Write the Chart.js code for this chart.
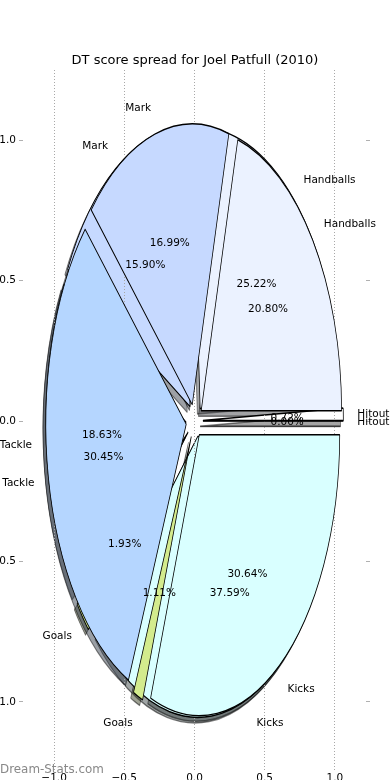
<!DOCTYPE html>
<html>
<head>
<meta charset="utf-8">
<title>DT score spread for Joel Patfull (2010)</title>
<script src="https://cdn.jsdelivr.net/npm/chart.js@4.4.1/dist/chart.umd.min.js"></script>
<style>
  html, body { margin: 0; padding: 0; overflow: hidden; background: #fff; }
  #wrap { position: relative; width: 390px; height: 780px; overflow: hidden; }
  canvas { position: absolute; left: -20px; top: 0; }
</style>
</head>
<body>
<div id="wrap">
  <canvas id="back" width="430" height="800"></canvas>
  <canvas id="front" width="430" height="800"></canvas>
</div>
<script>
// slices in the order matplotlib lays them out (counter-clockwise from east)
const sliceLabels = ["Hitout", "Handballs", "Mark", "Tackle", "Goals", "Kicks"];
const backShare = [0.72, 25.22, 15.90, 18.63, 1.93, 37.59];
const frontShare = [0.00, 20.80, 16.99, 30.45, 1.11, 30.64];
const sliceColors = ["#ffffff", "#ebf2ff", "#c6d9ff", "#b5d6ff", "#d3eb8d", "#d9ffff"];
const tickValues = [-1, -0.5, 0, 0.5, 1];
const titleText = "DT score spread for Joel Patfull (2010)";
const watermark = "Dream-Stats.com";

const axisLimit = 1.25;
const stretchY = 2;        // the axes squeeze the round pie into an ellipse
const explodeFrac = 0.06;
const shadowFrac = 0.02;
const labelDist = 1.1;
const pctDist = 0.6;
const fontFamily = '"DejaVu Sans", sans-serif';

// plot box inside the 430x800 canvases
const area = { left: 39, right: 40, top: 70, bottom: 28 };

// Chart.js goes clockwise, so feed it the slices backwards
const rev = a => a.slice().reverse();

function fmtTick(v) {
    return (v < 0 ? "\u2212" : "") + Math.abs(v).toFixed(1);
}

function unitPx(chart) {
    let a = chart.chartArea;
    return (a.right - a.left) / (2 * axisLimit);
}

function paintArc(ctx, arc, shadow) {
    let mid = (arc.startAngle + arc.endAngle) / 2;
    let shift = explodeFrac * arc.outerRadius;
    ctx.save();
    if (shadow) {
        ctx.translate(-shadowFrac * arc.outerRadius, shadowFrac * arc.outerRadius * stretchY);
        ctx.filter = "brightness(0.3)";
        ctx.globalAlpha = 0.5;
    }
    ctx.translate(arc.x, arc.y);
    ctx.scale(1, stretchY);
    ctx.translate(-arc.x, -arc.y);
    ctx.translate(Math.cos(mid) * shift, Math.sin(mid) * shift);
    if (arc.circumference > 0) {
        arc.draw(ctx);
    } else {
        // empty slice: matplotlib still draws its edge
        ctx.beginPath();
        ctx.moveTo(arc.x, arc.y);
        ctx.lineTo(arc.x + Math.cos(arc.startAngle) * arc.outerRadius,
                   arc.y + Math.sin(arc.startAngle) * arc.outerRadius);
        ctx.lineWidth = arc.options.borderWidth;
        ctx.strokeStyle = arc.options.borderColor;
        ctx.stroke();
    }
    ctx.restore();
}

function writeTexts(ctx, chart) {
    let arcs = chart.getDatasetMeta(0).data;
    let names = chart.data.labels;
    ctx.save();
    ctx.fillStyle = "#000";
    ctx.font = "10.5px " + fontFamily;
    ctx.textBaseline = "middle";
    arcs.forEach(function (arc, i) {
        let mid = (arc.startAngle + arc.endAngle) / 2;
        let R = arc.outerRadius;
        let shift = explodeFrac * R;
        let c = Math.cos(mid), s = Math.sin(mid);
        let lx = arc.x + c * (labelDist * R + shift);
        let ly = arc.y + s * (labelDist * R + shift) * stretchY + 1;
        ctx.textAlign = Math.abs(c) < 1e-9 ? "center" : (c > 0 ? "left" : "right");
        ctx.fillText(names[i], lx, ly);
        let px = arc.x + c * (pctDist * R + shift);
        let py = arc.y + s * (pctDist * R + shift) * stretchY + 1;
        ctx.textAlign = "center";
        ctx.fillText((arc.circumference / (2 * Math.PI) * 100).toFixed(2) + "%", px, py);
    });
    ctx.restore();
}

let back = null;

function pieDataset(values) {
    return {
        data: rev(values),
        backgroundColor: rev(sliceColors),
        borderColor: "#000",
        borderWidth: 0.75,
        offset: 0
    };
}

const yAxis = (position, showLabels, width) => ({
    type: "linear",
    position: position,
    min: -axisLimit,
    max: axisLimit,
    afterBuildTicks: s => { s.ticks = tickValues.map(v => ({ value: v })); },
    afterFit: s => { s.width = width; },
    grid: { drawOnChartArea: false, drawTicks: true, tickLength: -4, tickColor: "#b0b0b0", tickWidth: 1 },
    border: { display: false },
    ticks: { display: showLabels, padding: 7, color: "#000", font: { family: fontFamily, size: 10.5 }, callback: fmtTick }
});

// top layer: second pie, axes, title and all texts
const front = new Chart(document.getElementById("front"), {
    type: "pie",
    data: { labels: rev(sliceLabels), datasets: [pieDataset(frontShare)] },
    options: {
        responsive: false,
        animation: false,
        events: [],
        rotation: 90,
        radius: ctx => unitPx(ctx.chart),
        layout: { padding: 0 },
        scales: {
            x: {
                type: "linear",
                position: "bottom",
                min: -axisLimit,
                max: axisLimit,
                z: 1,
                afterBuildTicks: s => { s.ticks = tickValues.map(v => ({ value: v })); },
                afterFit: s => { s.height = area.bottom; },
                grid: { color: "#a8a8a8", lineWidth: 1, drawTicks: false },
                border: { display: false, dash: [1, 2] },
                ticks: { padding: 0, maxRotation: 0, autoSkip: false, color: "#000", font: { family: fontFamily, size: 10.5 }, callback: fmtTick }
            },
            y: yAxis("left", true, area.left),
            y2: yAxis("right", false, area.right)
        },
        plugins: {
            legend: { display: false },
            tooltip: { enabled: false },
            title: {
                display: true,
                text: titleText,
                color: "#000",
                font: { family: fontFamily, size: 13, weight: "normal" },
                padding: { top: 52.7, bottom: 1.7 }
            }
        }
    },
    plugins: [{
        id: "frontPaint",
        beforeDatasetsDraw(chart) {
            chart.getDatasetMeta(0).data.forEach(arc => paintArc(chart.ctx, arc, false));
            return false;
        },
        afterDraw(chart) {
            let ctx = chart.ctx;
            if (back) writeTexts(ctx, back);
            writeTexts(ctx, chart);
            ctx.save();
            ctx.fillStyle = "#888";
            ctx.font = "11.9px " + fontFamily;
            ctx.textAlign = "left";
            ctx.textBaseline = "middle";
            ctx.fillText(watermark, 20, 770);
            ctx.restore();
        }
    }]
});

// bottom layer: first pie plus the shadows of both pies
back = new Chart(document.getElementById("back"), {
    type: "pie",
    data: { labels: rev(sliceLabels), datasets: [pieDataset(backShare)] },
    options: {
        responsive: false,
        animation: false,
        events: [],
        rotation: 90,
        radius: ctx => unitPx(ctx.chart),
        layout: { padding: area },
        plugins: { legend: { display: false }, tooltip: { enabled: false } }
    },
    plugins: [{
        id: "backPaint",
        beforeDatasetsDraw(chart) {
            let ctx = chart.ctx;
            let shadows = chart.getDatasetMeta(0).data.concat(front.getDatasetMeta(0).data);
            shadows.forEach(arc => paintArc(ctx, arc, true));
            chart.getDatasetMeta(0).data.forEach(arc => paintArc(ctx, arc, false));
            return false;
        }
    }]
});

front.draw();
</script>
</body>
</html>
